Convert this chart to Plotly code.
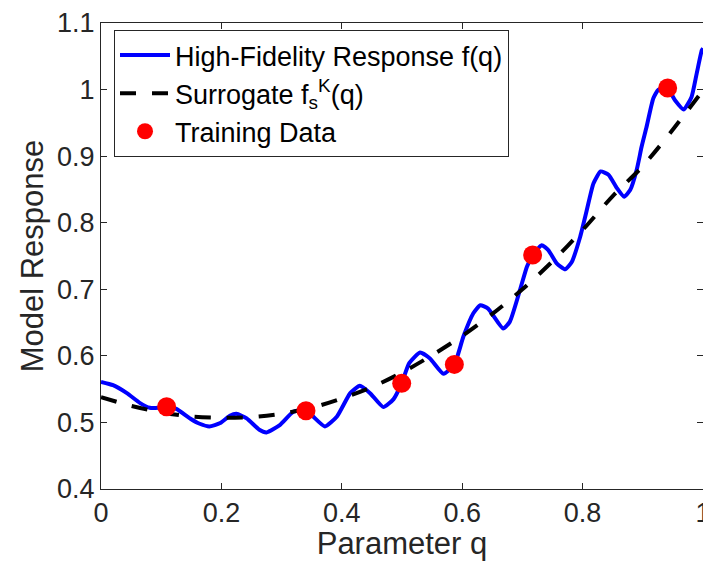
import plotly.graph_objects as go

# High-fidelity response f(q)
q_hf = [0.000, 0.020, 0.043, 0.065, 0.081, 0.095, 0.109, 0.126, 0.148, 0.164,
        0.180, 0.198, 0.214, 0.225, 0.242, 0.263, 0.275, 0.297, 0.3195, 0.3405,
        0.350, 0.372, 0.392, 0.414, 0.430, 0.447, 0.469, 0.486, 0.4995, 0.512,
        0.530, 0.5465, 0.569, 0.587, 0.602, 0.6185, 0.630, 0.643, 0.668, 0.679,
        0.696, 0.7075, 0.717, 0.732, 0.743, 0.757, 0.771, 0.782, 0.796, 0.807,
        0.818, 0.830, 0.843, 0.857, 0.869, 0.879, 0.890, 0.898, 0.906, 0.9175,
        0.926, 0.941, 0.9535, 0.968, 0.981, 0.9895, 0.998, 1.000]
f_hf = [0.561, 0.556, 0.544, 0.529, 0.522, 0.522, 0.524, 0.520, 0.506, 0.498,
        0.494, 0.499, 0.510, 0.513, 0.506, 0.489, 0.485, 0.496, 0.516, 0.518,
        0.511, 0.494, 0.509, 0.544, 0.555, 0.544, 0.523, 0.535, 0.559, 0.589,
        0.605, 0.596, 0.573, 0.587, 0.629, 0.664, 0.676, 0.671, 0.641, 0.651,
        0.699, 0.734, 0.751, 0.766, 0.759, 0.739, 0.730, 0.741, 0.779, 0.819,
        0.859, 0.877, 0.872, 0.852, 0.839, 0.849, 0.880, 0.914, 0.943, 0.987,
        1.000, 1.002, 0.984, 0.970, 0.989, 1.024, 1.059, 1.062]

# Surrogate f_s^K(q)
q_sur = [0.00, 0.05, 0.10, 0.15, 0.20, 0.25, 0.30, 0.35, 0.40, 0.45, 0.50,
         0.55, 0.60, 0.65, 0.70, 0.75, 0.80, 0.85, 0.90, 0.95, 1.00]
f_sur = [0.538, 0.525, 0.515, 0.509, 0.507, 0.508, 0.513, 0.522, 0.536, 0.553, 0.575,
         0.601, 0.630, 0.663, 0.700, 0.742, 0.789, 0.840, 0.885, 0.940, 0.999]

# Training data
q_train = [0.109, 0.3405, 0.4995, 0.587, 0.717, 0.9413]
f_train = [0.5236, 0.5176, 0.5587, 0.5872, 0.7514, 1.0025]

x_ticks = [0, 0.2, 0.4, 0.6, 0.8, 1]
x_ticktext = ["0", "0.2", "0.4", "0.6", "0.8", "1"]
y_ticks = [0.4, 0.5, 0.6, 0.7, 0.8, 0.9, 1.0, 1.1]
y_ticktext = ["0.4", "0.5", "0.6", "0.7", "0.8", "0.9", "1", "1.1"]

FONT = "Liberation Sans, Arial, Helvetica, sans-serif"
INK = "#262626"

fig = go.Figure()
fig.add_trace(go.Scatter(
    x=q_hf, y=f_hf, mode="lines", name="High-Fidelity Response f(q)",
    line=dict(color="#0000ff", width=4, shape="spline", smoothing=0.5)))
fig.add_trace(go.Scatter(
    x=q_sur, y=f_sur, mode="lines", name="Surrogate f<sub>s</sub><sup>K</sup>(q)",
    line=dict(color="#000000", width=4, dash="16px,16px", shape="spline", smoothing=0.8)))
fig.add_trace(go.Scatter(
    x=q_train, y=f_train, mode="markers", name="Training Data",
    marker=dict(color="#ff0000", size=19, line=dict(width=0))))

axis_common = dict(
    showgrid=False, zeroline=False, showline=True, linecolor=INK, linewidth=1,
    mirror="ticks", ticks="inside", ticklen=6, tickcolor=INK, tickwidth=1,
    tickfont=dict(family=FONT, size=27, color=INK),
    ticklabeloverflow="allow", automargin=False,
)

fig.update_layout(
    width=703, height=561, autosize=False,
    margin=dict(l=101, r=0, t=23, b=72, autoexpand=False),
    paper_bgcolor="white", plot_bgcolor="white",
    font=dict(family=FONT, color=INK),
    showlegend=True,
    legend=dict(
        x=0.0216, y=0.985, xanchor="left", yanchor="top",
        bgcolor="white", bordercolor=INK, borderwidth=1,
        font=dict(family=FONT, size=27, color="#000000"),
        tracegroupgap=0, itemwidth=50,
    ),
    xaxis=dict(range=[0, 1], tickvals=x_ticks, ticktext=x_ticktext,
               title=dict(text="Parameter q", font=dict(family=FONT, size=31, color=INK), standoff=4),
               **axis_common),
    yaxis=dict(range=[0.4, 1.1], tickvals=y_ticks, ticktext=y_ticktext,
               title=dict(text="Model Response", font=dict(family=FONT, size=31, color=INK), standoff=4),
               **axis_common),
)

fig.write_html("out.html")
